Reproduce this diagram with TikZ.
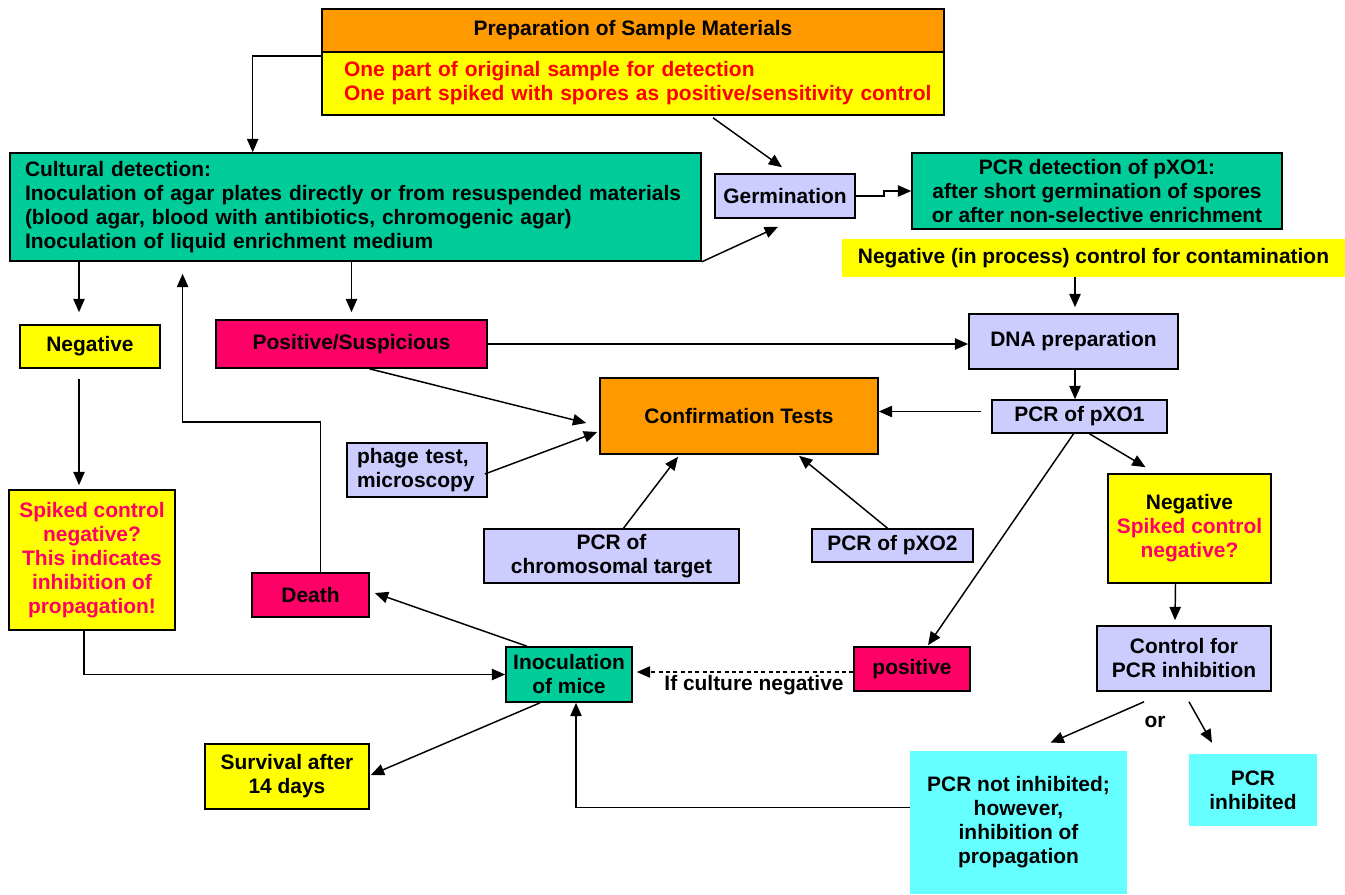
\documentclass[tikz,border=0pt]{standalone}
\usepackage{fontspec}
\setmainfont{Liberation Sans}
\usetikzlibrary{arrows.meta,calc}
\definecolor{cOrange}{HTML}{FF9900}
\definecolor{cYellow}{HTML}{FFFF00}
\definecolor{cGreen}{HTML}{00CC99}
\definecolor{cLav}{HTML}{CCCCFF}
\definecolor{cMag}{HTML}{FF0066}
\definecolor{cCyan}{HTML}{66FFFF}
\definecolor{cPink}{HTML}{FF0066}
\definecolor{cRed}{HTML}{FF0000}
\newcommand\bx[7]{\node[#6, minimum width={(#4-#2)*0.75pt}, minimum height={(#5-#3)*0.75pt}] (#1) at ({(#2+#4)/2},{(#3+#5)/2}) {#7};}
\tikzset{
  fnt/.style={font=\fontsize{15.7}{18}\selectfont\bfseries},
  bx/.style={draw=black, line width=1.2pt, inner sep=0pt, align=center, fnt},
  nb/.style={inner sep=0pt, align=center, fnt},
  txt/.style={inner sep=0pt, fnt},
  arr/.style={line width=1.1pt, -{Triangle[length=10pt,width=8.5pt]}},
  dsh/.style={arr, dash pattern=on 3pt off 2.5pt},
}
\begin{document}
\begin{tikzpicture}[x=0.75pt,y=-0.75pt]
\useasboundingbox (0,0) rectangle (1345,894);
% boxes
\bx{prepT}{322}{9}{944}{52}{bx,fill=cOrange}{Preparation of Sample Materials}
\bx{prepB}{322}{52}{944}{115}{bx,fill=cYellow,text width=433.5pt,align=left,text=cRed}{\mbox{One part of original sample for detection}\\\mbox{One part spiked with spores as positive/sensitivity control}}
\bx{cult}{10}{153}{701}{261}{bx,fill=cGreen,text width=495.75pt,align=left}{Cultural detection:\\Inoculation of agar plates directly or from resuspended materials\\(blood agar, blood with antibiotics, chromogenic agar)\\Inoculation of liquid enrichment medium}
\bx{germ}{715}{174}{855}{218}{bx,fill=cLav}{Germination}
\bx{pcrdet}{912}{153}{1282}{229}{bx,fill=cGreen}{PCR detection of pXO1:\\after short germination of spores\\or after non-selective enrichment}
\bx{negctrl}{842}{239}{1345}{277}{nb,fill=cYellow}{Negative (in process) control for contamination}
\bx{dna}{969}{314}{1178}{369}{bx,fill=cLav}{DNA preparation}
\bx{pxo1}{992}{400}{1167}{433}{bx,fill=cLav}{PCR of pXO1}
\bx{conf}{600}{378}{878}{454}{bx,fill=cOrange}{Confirmation Tests}
\bx{pos}{216}{320}{487}{368}{bx,fill=cMag}{Positive/Suspicious}
\bx{neg}{20}{325}{160}{368}{bx,fill=cYellow}{Negative}
\bx{spk}{9}{490}{175}{630}{bx,fill=cYellow,text=cPink}{Spiked control\\negative?\\This indicates\\inhibition of\\propagation!}
\bx{phage}{347}{443}{487}{497}{bx,fill=cLav,text width=90pt,align=left}{phage test,\\microscopy}
\bx{chrom}{484}{529}{739}{583}{bx,fill=cLav}{PCR of\\chromosomal target}
\bx{pxo2}{812}{529}{973}{562}{bx,fill=cLav}{PCR of pXO2}
\bx{death}{252}{573}{369}{617}{bx,fill=cMag}{Death}
\bx{inoc}{506}{647}{632}{702}{bx,fill=cGreen}{Inoculation\\of mice}
\bx{posi}{854}{647}{970}{691}{bx,fill=cMag}{positive}
\bx{negy}{1108}{474}{1271}{583}{bx,fill=cYellow}{Negative\\\textcolor{cPink}{Spiked control}\\\textcolor{cPink}{negative?}}
\bx{ctrl}{1097}{626}{1271}{691}{bx,fill=cLav}{Control for\\PCR inhibition}
\bx{surv}{205}{744}{369}{809}{bx,fill=cYellow}{Survival after\\14 days}
\bx{notinh}{910}{751}{1127}{894}{nb,fill=cCyan}{PCR not inhibited;\\however,\\inhibition of\\propagation}
\bx{inh}{1189}{754}{1317}{826}{nb,fill=cCyan}{PCR\\inhibited}
\node[txt] (orlbl) at (1155,722) {or};
\node[txt] (icn) at (754,685) {If culture negative};
% connectors
\coordinate (c1) at (252.7,56);
\draw[arr] (prepB.west |- c1) -| (cult.north -| c1);
\draw[arr] ($(prepB.south)+(80,2)$) -- ($(germ.north)+(-3,-6)$);
\draw[arr] (cult.south east) -- ($(germ.south)+(-7,8)$);
\draw[arr] (germ.east) -- ++(28,0) |- (pcrdet.west);
\coordinate (c2) at (1075,0);
\draw[arr] (negctrl.south -| c2) -- ($(dna.north -| c2)+(0,-6)$);
\draw[arr] (dna.south -| c2) -- (pxo1.north -| c2);
\draw[arr] ($(pxo1.west)+(-10,-5)$) coordinate (t1) -- (conf.east |- t1);
\draw[arr] (pos.east) -- (pos.east -| dna.west);
\coordinate (c3) at (79,0);
\draw[arr] (cult.south -| c3) -- ($(neg.north -| c3)+(0,-12)$);
\draw[arr] (cult.south -| pos.north) -- ($(pos.north)+(0,-7)$);
\coordinate (lp) at (182.6,422);
\draw[arr] ($(death.north)+(10,0)$) |- (lp) -- ($(lp |- cult.south)+(0,12)$);
\draw[arr] ($(neg.south -| c3)+(0,10)$) -- ($(spk.north -| c3)+(0,-4)$);
\draw[arr] ($(pos.south)+(18,0)$) -- ($(conf.west)+(-13,7)$);
\draw[arr] ($(phage.east)+(-3,4)$) -- ($(conf.west)+(-2,16)$);
\draw[arr] ($(chrom.north)+(12,0)$) -- ($(conf.south)+(-61,2)$);
\draw[arr] ($(pxo2.north)+(-5,0)$) -- ($(conf.south)+(60,1)$);
\draw[arr] ($(pxo1.south)+(-6,0)$) -- ($(posi.north)+(16,-1)$);
\draw[arr] ($(pxo1.south)+(10,0)$) -- ($(negy.north)+(-44,-6)$);
\draw[arr] ($(negy.south)+(-14,0)$) -- ($(ctrl.north)+(-9,-5)$);
\draw[dsh, shorten >=3pt] ($(posi.west)+(0,3)$) coordinate (t2) -- (t2 -| inoc.east);
\draw[arr] ($(spk.south)+(-8,0)$) |- (inoc.west);
\draw[arr] ($(inoc.north)+(-42,0)$) -- ($(death.east)+(5,-2)$);
\draw[arr] ($(inoc.south)+(-29,0)$) -- ($(surv.east)+(1,-1.5)$);
\draw[arr] ($(notinh.north west)+(0,57)$) -| ($(inoc.south)+(7,0)$);
\draw[arr] ($(ctrl.south)+(-40,10)$) -- ($(notinh.north)+(32,-8)$);
\draw[arr] ($(ctrl.south)+(5,10)$) -- ($(inh.north)+(-41,-11)$);
\end{tikzpicture}
\end{document}
